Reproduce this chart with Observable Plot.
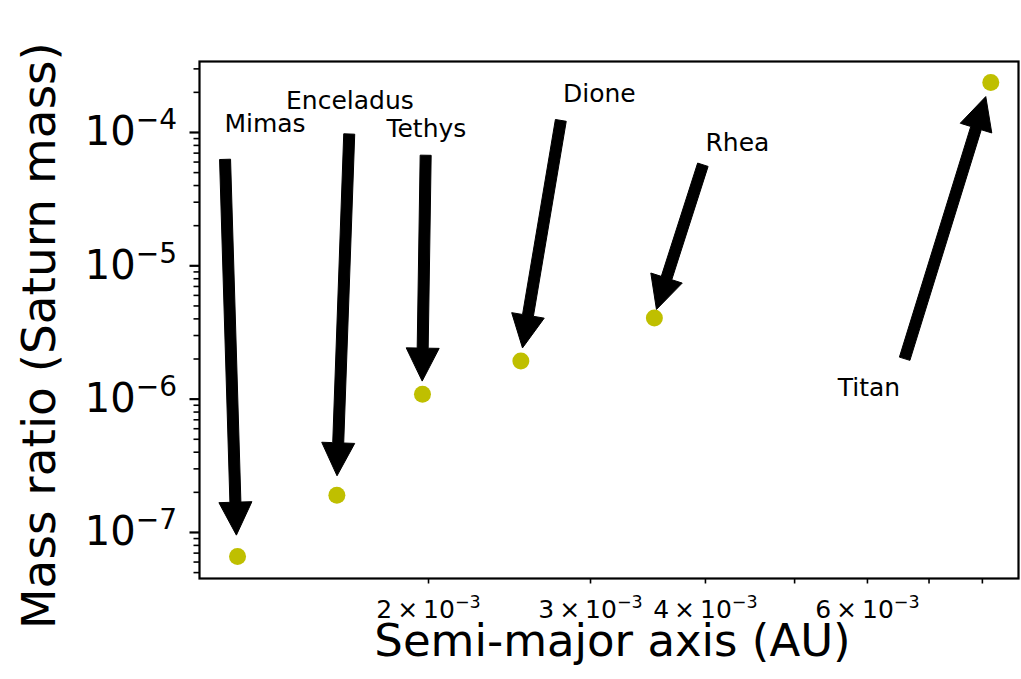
<!DOCTYPE html>
<html>
<head>
<meta charset="utf-8">
<script src="https://cdn.jsdelivr.net/npm/d3@7"></script>
<script src="https://cdn.jsdelivr.net/npm/@observablehq/plot@0.6"></script>
<style>
  html, body { margin: 0; padding: 0; background: #fff; }
  #chart svg { display: block; overflow: visible; }
</style>
</head>
<body>
<div id="chart"></div>
<script>
// Major moons of Saturn: orbit size versus mass (as a fraction of Saturn's mass)
const moons = ["Mimas", "Enceladus", "Tethys", "Dione", "Rhea", "Titan"];
const semiMajorAxisAU = [0.00124, 0.00159, 0.00197, 0.00252, 0.00352, 0.00817];
const massRatio = [6.6e-8, 1.9e-7, 1.09e-6, 1.93e-6, 4.06e-6, 2.37e-4];

// Where each moon's name sits (data coordinates of the label's left baseline)
const labelAxisAU = [0.0012, 0.0014, 0.0018, 0.0028, 0.0040, 0.00557];
const labelMassRatio = [1.0e-4, 1.5e-4, 9.3e-5, 1.7e-4, 7.3e-5, 1.05e-6];

// Axis ticks
const xTicks = [0.002, 0.003, 0.004, 0.005, 0.006, 0.007, 0.008];
const xTickLabels = ["2\u2009×\u200910⁻³", "3\u2009×\u200910⁻³", "4\u2009×\u200910⁻³", "", "6\u2009×\u200910⁻³", "", ""];
const yMajorTicks = [1e-7, 1e-6, 1e-5, 1e-4];
const yTickLabels = ["10⁻⁷", "10⁻⁶", "10⁻⁵", "10⁻⁴"];

const xDomain = [1.1274e-3, 8.757e-3];
const yDomain = [4.516e-8, 3.407e-4];

const yMinorTicks = [];
for (let k = -8; k <= -4; k++) {
  for (let m = 2; m <= 9; m++) {
    const v = +(m + "e" + k);
    if (v >= yDomain[0] && v <= yDomain[1]) yMinorTicks.push(v);
  }
}

const table = moons.map((name, i) => ({
  name,
  a: semiMajorAxisAU[i],
  m: massRatio[i],
  la: labelAxisAU[i],
  lm: labelMassRatio[i]
}));

const xTickText = new Map(xTicks.map((t, i) => [t, xTickLabels[i]]));
const yTickText = new Map(yMajorTicks.map((t, i) => [t, yTickLabels[i]]));

const labelSize = 25;

const chart = Plot.plot({
  width: 1021,
  height: 679,
  marginLeft: 199,
  marginRight: 3,
  marginTop: 61,
  marginBottom: 101,
  style: { fontFamily: "'DejaVu Sans', sans-serif", background: "white", color: "black", overflow: "visible" },
  x: { type: "log", domain: xDomain },
  y: { type: "log", domain: yDomain },
  marks: [
    Plot.axisX(xTicks, {
      tickSize: 5.5, tickPadding: 16, fontSize: 25, strokeWidth: 1.6,
      tickFormat: (d) => xTickText.get(d) ?? "", label: null
    }),
    Plot.axisY(yMinorTicks, {
      tickSize: 5.5, strokeWidth: 1.6, tickFormat: () => "", label: null
    }),
    Plot.axisY(yMajorTicks, {
      tickSize: 9.5, tickPadding: 13, fontSize: 40, strokeWidth: 2.2,
      tickFormat: (d) => yTickText.get(d) ?? "", label: null
    }),
    Plot.frame({ stroke: "black", strokeWidth: 2.2 }),
    Plot.dot(table, { x: "a", y: "m", r: 8.5, fill: "#bfbf00", stroke: null }),
    Plot.text(table, {
      x: "la", y: "lm", text: "name", textAnchor: "start",
      fontSize: labelSize, dy: -0.32 * labelSize, fill: "black"
    }),
    Plot.text(["Semi-major axis (AU)"], {
      text: (d) => d, frameAnchor: "bottom", textAnchor: "middle",
      dx: 3.5, dy: 77.6, fontSize: 45, fill: "black"
    }),
    Plot.text(["Mass ratio (Saturn mass)"], {
      text: (d) => d, frameAnchor: "left", textAnchor: "middle", rotate: -90,
      dx: -160, dy: 15.5, fontSize: 47, fill: "black"
    })
  ]
});

document.getElementById("chart").appendChild(chart);

// Superscript exponents in tick labels
const supChars = { "⁻": "−", "⁰": "0", "¹": "1", "²": "2", "³": "3", "⁴": "4", "⁵": "5", "⁶": "6", "⁷": "7", "⁸": "8", "⁹": "9" };
d3.select(chart).selectAll("text").each(function () {
  const s = this.textContent;
  const match = s.match(/^(.*?)([⁻⁰¹²³⁴⁵⁶⁷⁸⁹]+)$/);
  if (!match) return;
  const fs = parseFloat(getComputedStyle(this).fontSize);
  const sel = d3.select(this);
  sel.text(null);
  sel.append("tspan").text(match[1]);
  sel.append("tspan")
    .attr("font-size", fs * 0.7)
    .attr("dy", -0.4 * fs)
    .text([...match[2]].map((c) => supChars[c]).join(""));
});

// Annotation arrows: from the nearest corner/edge of each label to its point,
// shortened by 5% at both ends, drawn as a filled "simple" arrow.
const xs = chart.scale("x");
const ys = chart.scale("y");
const svgRect = chart.getBoundingClientRect();
const allTexts = Array.from(chart.querySelectorAll("text"));
const shaftWidth = 11, headWidth = 33, headLength = 33, shrink = 0.05;

const arrows = d3.select(chart).append("g").attr("aria-label", "arrows");
table.forEach((d) => {
  const node = allTexts.find((t) => t.textContent === d.name);
  if (!node) return;
  const r = node.getBoundingClientRect();
  const x0 = r.left - svgRect.left, x1 = r.right - svgRect.left;
  const y0 = r.top - svgRect.top, y1 = r.bottom - svgRect.top;
  const px = xs.apply(d.a), py = ys.apply(d.m);
  const nearest = (cands, v) => cands.reduce((a, b) => (Math.abs(b - v) < Math.abs(a - v) ? b : a));
  const sx = nearest([x0, (x0 + x1) / 2, x1], px);
  const sy = nearest([y1, (y0 + y1) / 2, y0], py);
  const dx = px - sx, dy = py - sy, L = Math.hypot(dx, dy);
  const ux = dx / L, uy = dy / L, nx = -uy, ny = ux;
  const tx = sx + ux * shrink * L, ty = sy + uy * shrink * L;
  const hx = px - ux * shrink * L, hy = py - uy * shrink * L;
  const bx = hx - ux * headLength, by = hy - uy * headLength;
  const w = shaftWidth / 2, hw = headWidth / 2;
  const pts = [
    [tx + nx * w, ty + ny * w],
    [bx + nx * w, by + ny * w],
    [bx + nx * hw, by + ny * hw],
    [hx, hy],
    [bx - nx * hw, by - ny * hw],
    [bx - nx * w, by - ny * w],
    [tx - nx * w, ty - ny * w]
  ];
  arrows.append("path")
    .attr("d", "M" + pts.map((p) => p.join(",")).join("L") + "Z")
    .attr("fill", "black")
    .attr("stroke", "black")
    .attr("stroke-width", 1);
});
</script>
</body>
</html>
